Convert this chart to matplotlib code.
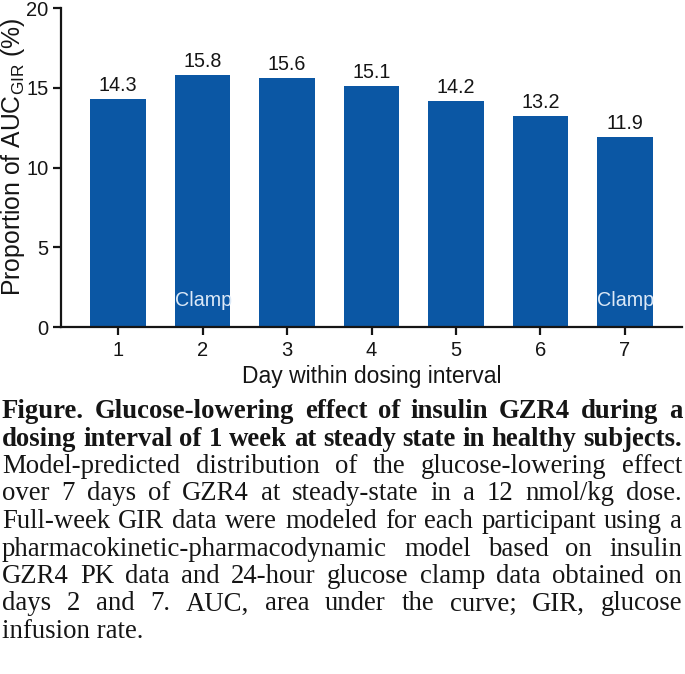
import matplotlib
matplotlib.use("Agg")
import matplotlib.pyplot as plt

days = [1, 2, 3, 4, 5, 6, 7]
values = [14.3, 15.8, 15.6, 15.1, 14.2, 13.2, 11.9]
clamp_days = [2, 7]
clamp_label = "Clamp"
yticks = [0, 5, 10, 15, 20]
xlabel = "Day within dosing interval"
ylabel = "Proportion of AUC$_{\\mathrm{GIR}}$ (%)"

caption_lines = [
    ("Figure. Glucose-lowering effect of insulin GZR4 during a", True, True),
    ("dosing interval of 1 week at steady state in healthy subjects.", True, True),
    ("Model-predicted distribution of the glucose-lowering effect", False, True),
    ("over 7 days of GZR4 at steady-state in a 12 nmol/kg dose.", False, True),
    ("Full-week GIR data were modeled for each participant using a", False, True),
    ("pharmacokinetic-pharmacodynamic model based on insulin", False, True),
    ("GZR4 PK data and 24-hour glucose clamp data obtained on", False, True),
    ("days 2 and 7. AUC, area under the curve; GIR, glucose", False, True),
    ("infusion rate.", False, False),
]

plt.rcParams['font.family'] = ['Liberation Sans', 'DejaVu Sans']
plt.rcParams['mathtext.fontset'] = 'custom'
plt.rcParams['mathtext.rm'] = 'Liberation Sans'
plt.rcParams['mathtext.it'] = 'Liberation Sans:italic'
plt.rcParams['mathtext.bf'] = 'Liberation Sans:bold'

W, H = 685, 674
fig = plt.figure(figsize=(W / 100, H / 100), dpi=100)
ax_l, ax_r, ax_t, ax_b = 61, 682, 8, 327
ax = fig.add_axes([ax_l / W, 1 - ax_b / H, (ax_r - ax_l) / W, (ax_b - ax_t) / H])

txt_color = "#151515"
bar_color = "#0B57A4"
ax.bar(days, values, width=0.66, color=bar_color)
for d, v in zip(days, values):
    ax.text(d, v + 0.5, f"{v:.1f}", ha="center", va="baseline", fontsize=14.2, color=txt_color)
for d in clamp_days:
    ax.text(d - 0.33, 1.65, clamp_label, ha="left", va="center", fontsize=14.2, color="#dce9f7")

ax.set_xlim(0.325, 7.675)
ax.set_ylim(0, 20)
ax.set_yticks(yticks)
ax.set_xticks(days)
ax.tick_params(axis="both", labelsize=14.5, width=1.6, length=6, color=txt_color,
               labelcolor=txt_color, pad=3)
ax.tick_params(axis="x", pad=4)
for s in ["top", "right"]:
    ax.spines[s].set_visible(False)
for s in ["left", "bottom"]:
    ax.spines[s].set_linewidth(1.6)
    ax.spines[s].set_color(txt_color)
ax.set_xlabel(xlabel, fontsize=16.5, color=txt_color, labelpad=4)
ax.set_ylabel(ylabel, fontsize=17.8, color=txt_color)
ax.yaxis.set_label_coords(-0.054, 0.535)

# justified caption
fig.canvas.draw()
renderer = fig.canvas.get_renderer()
serif = ['Liberation Serif', 'DejaVu Serif']
fs = 19.3
left_px, right_px = 2, 682
base0 = 418
spacing = 27.5
for i, (line, bold, justify) in enumerate(caption_lines):
    weight = "bold" if bold else "normal"
    yb = 1 - (base0 + i * spacing) / H
    words = line.split(" ")
    if not justify:
        fig.text(left_px / W, yb, line, family=serif, fontsize=fs, weight=weight,
                 va="baseline", ha="left", color=txt_color)
        continue
    tobjs = []
    widths = []
    for w in words:
        t = fig.text(0, yb, w, family=serif, fontsize=fs, weight=weight,
                     va="baseline", ha="left", color=txt_color)
        bb = t.get_window_extent(renderer)
        tobjs.append(t)
        widths.append(bb.width)
    gap = (right_px - left_px - sum(widths)) / (len(words) - 1)
    x = left_px
    for t, wd in zip(tobjs, widths):
        t.set_x(x / W)
        x += wd + gap

fig.savefig("out.png", dpi=100)
